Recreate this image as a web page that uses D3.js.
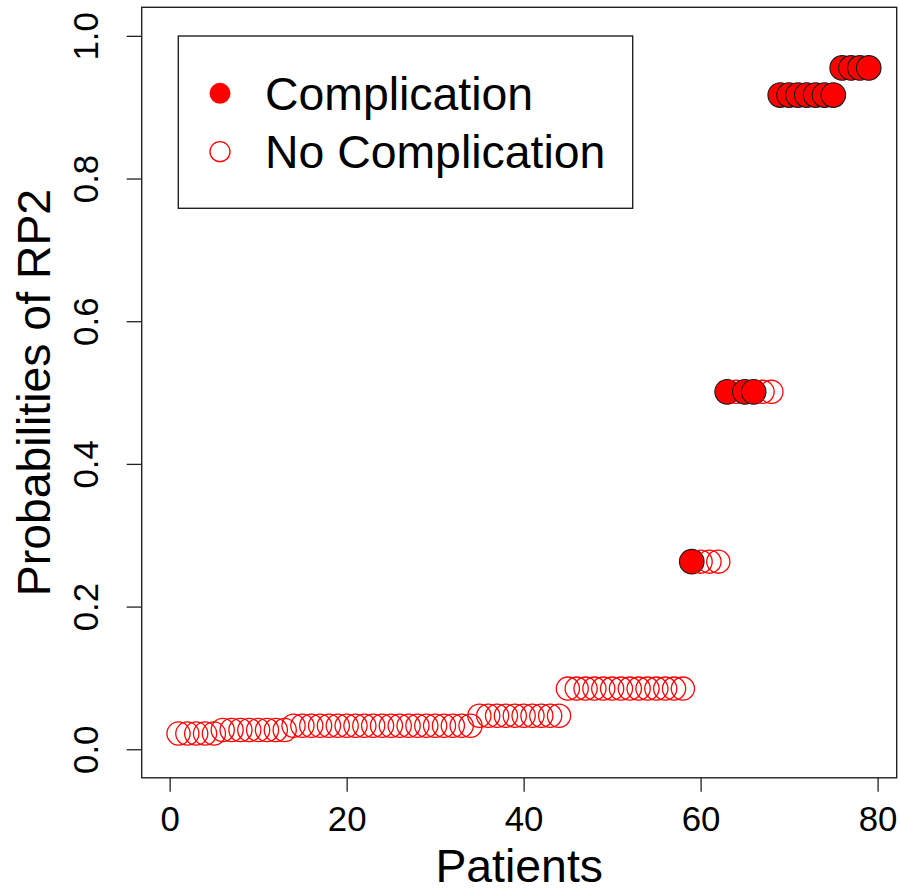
<!DOCTYPE html>
<html lang="en">
	<head>
		<meta charset="utf-8">
		<title>Probabilities of RP2</title>
		<script src="https://d3js.org/d3.v7.min.js"></script>
		<style type="text/css">
			body { margin: 0; background: #fff; }
			svg text { font-family: "Liberation Sans", Arial, sans-serif; fill: #000; }
			.axis path { display: none; }
			.axis line { stroke: #222; stroke-width: 1.3; }
		</style>
	</head>
	<body>
		<script type="text/javascript">

			// patient number (x) in plotting order
			var patients = [
				1, 2, 3, 4, 5, 6, 7, 8, 9, 10,
				11, 12, 13, 14, 15, 16, 17, 18, 19, 20,
				21, 22, 23, 24, 25, 26, 27, 28, 29, 30,
				31, 32, 33, 34, 35, 36, 37, 38, 39, 40,
				41, 42, 43, 44, 45, 46, 47, 48, 49, 50,
				51, 52, 53, 54, 55, 56, 57, 58, 59, 60,
				61, 62, 63, 64, 65, 66, 67, 68, 69, 70,
				71, 72, 73, 74, 75, 76, 77, 78, 79
			];

			// predicted probability of RP2
			var probs = [
				0.022, 0.022, 0.022, 0.022, 0.022,
				0.027, 0.027, 0.027, 0.027, 0.027, 0.027, 0.027, 0.027,
				0.033, 0.033, 0.033, 0.033, 0.033, 0.033, 0.033, 0.033, 0.033, 0.033,
				0.033, 0.033, 0.033, 0.033, 0.033, 0.033, 0.033, 0.033, 0.033, 0.033, 0.033,
				0.047, 0.047, 0.047, 0.047, 0.047, 0.047, 0.047, 0.047, 0.047, 0.047,
				0.085, 0.085, 0.085, 0.085, 0.085, 0.085, 0.085,
				0.085, 0.085, 0.085, 0.085, 0.085, 0.085, 0.085,
				0.263, 0.263, 0.263, 0.263,
				0.501, 0.501, 0.501, 0.501, 0.501, 0.501,
				0.917, 0.917, 0.917, 0.917, 0.917, 0.917, 0.917,
				0.955, 0.955, 0.955, 0.955
			];

			// 1 = complication, 0 = no complication
			var complication = [
				0, 0, 0, 0, 0, 0, 0, 0, 0, 0,
				0, 0, 0, 0, 0, 0, 0, 0, 0, 0,
				0, 0, 0, 0, 0, 0, 0, 0, 0, 0,
				0, 0, 0, 0, 0, 0, 0, 0, 0, 0,
				0, 0, 0, 0, 0, 0, 0, 0, 0, 0,
				0, 0, 0, 0, 0, 0, 0, 0, 1, 0,
				0, 0, 1, 0, 1, 1, 0, 0, 1, 1,
				1, 1, 1, 1, 1, 1, 1, 1, 1
			];

			var xTicks = [0, 20, 40, 60, 80],
				yTicks = [0, 0.2, 0.4, 0.6, 0.8, 1.0],
				legendLabels = ["Complication", "No Complication"];

			var W = 900, H = 892,
				margin = {top: 7.3, right: 3.3, bottom: 114.2, left: 141.7},
				w = W - margin.left - margin.right,
				h = H - margin.top - margin.bottom,
				xlim = [0, 79],
				ylim = [0, 1],
				xpad = 0.04 * (xlim[1] - xlim[0]),
				ypad = 0.04 * (ylim[1] - ylim[0]);

			var xScale = d3.scaleLinear()
							.domain([xlim[0] - xpad, xlim[1] + xpad])
							.range([0, w]),
				yScale = d3.scaleLinear()
							.domain([ylim[0] - ypad, ylim[1] + ypad])
							.range([h, 0]);

			var svg = d3.select("body")
						.append("svg")
						.attr("width", W)
						.attr("height", H);

			var g = svg.append("g")
						.attr("transform", "translate(" + margin.left + "," + margin.top + ")");

			// x axis
			var xAxis = g.append("g")
						.attr("class", "axis")
						.attr("transform", "translate(0," + h + ")")
						.call(d3.axisBottom(xScale).tickValues(xTicks).tickSize(14).tickFormat(d3.format("d")));
			xAxis.selectAll("text")
				.attr("y", 53)
				.attr("dy", 0)
				.style("font-size", "34.8px");

			// y axis, labels parallel to the axis
			var yAxis = g.append("g")
						.attr("class", "axis")
						.call(d3.axisLeft(yScale).tickValues(yTicks).tickSize(15).tickFormat(d3.format(".1f")));
			yAxis.selectAll("text")
				.attr("transform", "rotate(-90)")
				.attr("x", 0)
				.attr("y", -44)
				.attr("dy", 0)
				.attr("text-anchor", "middle")
				.style("font-size", "34.8px");

			// box
			g.append("rect")
				.attr("width", w)
				.attr("height", h)
				.attr("fill", "none")
				.attr("stroke", "#222")
				.attr("stroke-width", 1.4);

			// points, drawn in patient order so later ones sit on top
			g.selectAll("circle.pt")
				.data(probs)
				.enter()
				.append("circle")
				.attr("class", "pt")
				.attr("cx", function(d, i){ return xScale(patients[i]); })
				.attr("cy", function(d){ return yScale(d); })
				.attr("r", function(d, i){ return complication[i] ? 12.3 : 11.6; })
				.attr("fill", function(d, i){ return complication[i] ? "#ff0000" : "none"; })
				.attr("stroke", function(d, i){ return complication[i] ? "#1a1a1a" : "#ff0000"; })
				.attr("stroke-width", function(d, i){ return complication[i] ? 1.1 : 1.3; });

			// axis titles
			svg.append("text")
				.attr("x", margin.left + w / 2)
				.attr("y", 882)
				.attr("text-anchor", "middle")
				.style("font-size", "46.4px")
				.text("Patients");

			svg.append("text")
				.attr("transform", "translate(50," + (margin.top + h / 2) + ") rotate(-90)")
				.attr("text-anchor", "middle")
				.style("font-size", "46.4px")
				.text("Probabilities of RP2");

			// legend
			var legend = svg.append("g").attr("transform", "translate(178.3,36)");
			legend.append("rect")
				.attr("width", 454.4)
				.attr("height", 172.3)
				.attr("fill", "#fff")
				.attr("stroke", "#222")
				.attr("stroke-width", 1.4);

			var rows = legend.selectAll("g.row")
							.data(legendLabels)
							.enter()
							.append("g")
							.attr("class", "row")
							.attr("transform", function(d, i){ return "translate(0," + (57.3 + i * 58.4) + ")"; });
			rows.append("circle")
				.attr("cx", 41.7)
				.attr("r", function(d, i){ return i === 0 ? 10.5 : 10; })
				.attr("fill", function(d, i){ return i === 0 ? "#ff0000" : "none"; })
				.attr("stroke", "#ff0000")
				.attr("stroke-width", function(d, i){ return i === 0 ? 0 : 1.3; });
			rows.append("text")
				.attr("x", 86.7)
				.attr("y", 16.5)
				.style("font-size", "46.4px")
				.text(function(d){ return d; });

		</script>
	</body>
</html>
